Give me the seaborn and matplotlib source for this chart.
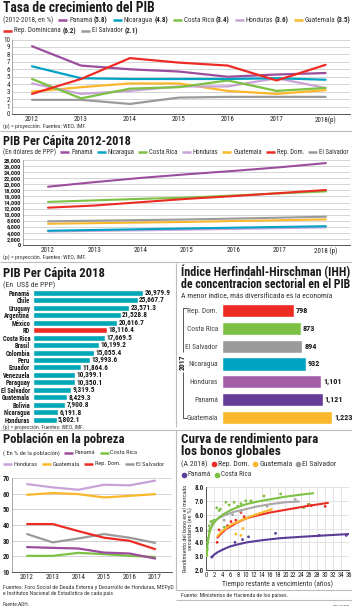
import numpy as np
import pandas as pd
import matplotlib
matplotlib.use("Agg")
import matplotlib.pyplot as plt
import seaborn as sns
from matplotlib import font_manager
from matplotlib.lines import Line2D

# ---------------- data ----------------
years = ["2012", "2013", "2014", "2015", "2016", "2017", "2018(p)"]
years2 = ["2012", "2013", "2014", "2015", "2016", "2017", "2018 (p)"]

growth_panama = [9.1, 6.5, 6.0, 5.7, 5.0, 5.3, 5.5]
growth_nicaragua = [6.4, 4.8, 4.7, 4.7, 4.7, 4.8, 4.6]
growth_costarica = [4.7, 2.1, 3.4, 3.6, 4.5, 3.1, 3.5]
growth_honduras = [4.1, 2.7, 3.1, 3.7, 3.7, 4.8, 3.5]
growth_guatemala = [3.0, 3.6, 4.1, 4.1, 3.1, 2.7, 3.2]
growth_repdom = [2.7, 4.7, 7.5, 6.9, 6.5, 4.5, 6.6]
growth_elsalvador = [1.9, 1.9, 1.35, 2.2, 2.3, 2.3, 2.3]
growth_legend = ["5.8", "4.8", "3.4", "3.6", "3.5", "6.2", "2.1"]

pc_panama = [19200, 20700, 22100, 23300, 24400, 25600, 26980]
pc_nicaragua = [4700, 4950, 5200, 5450, 5700, 5950, 6190]
pc_costarica = [14200, 14700, 15200, 15600, 16300, 17000, 17670]
pc_honduras = [4450, 4650, 4850, 5050, 5300, 5550, 5800]
pc_guatemala = [7000, 7200, 7400, 7600, 7900, 8150, 8430]
pc_repdom = [12300, 13000, 14100, 15200, 16100, 17100, 18120]
pc_elsalvador = [7800, 8000, 8200, 8400, 8700, 9000, 9320]

latam_countries = ["Panamá", "Chile", "Uruguay", "Argentina", "México", "RD", "Costa Rica",
                   "Brasil", "Colombia", "Peru", "Ecuador", "Venezuela", "Paraguay",
                   "El Salvador", "Guatemala", "Bolivia", "Nicaragua", "Honduras"]
latam_pc2018 = [26979.9, 25667.7, 23571.3, 21528.8, 20616.7, 18116.4, 17669.5,
                16199.2, 15055.4, 13993.6, 11864.6, 10399.1, 10350.1,
                9319.5, 8429.3, 7900.8, 6191.8, 5802.1]

ihh_countries = ["Rep. Dom.", "Costa Rica", "El Salvador", "Nicaragua", "Honduras", "Panamá", "Guatemala"]
ihh_values = [798, 873, 894, 932, 1101, 1121, 1223]

pov_years = ["2012", "2013", "2014", "2015", "2016", "2017"]
pov_panama = [25.9, 25.4, 25.0, 22.4, 21.8, 18.6]
pov_costarica = [20.3, 20.3, 22.2, 21.4, 20.3, 19.6]
pov_honduras = [66.1, 64.0, 62.5, 65.7, 65.3, 68.3]
pov_guatemala = [59.3, 60.4, 59.7, 57.6, 58.6, 59.7]
pov_repdom = [40.6, 40.6, 36.1, 31.9, 29.9, 24.6]
pov_elsalvador = [34.2, 28.9, 31.4, 34.2, 31.9, 28.6]

# yield curve: fitted curves
cr_curve_x = [0.15, 0.4, 0.8, 1.2, 1.8, 2.5, 3.5, 4.5, 6, 8, 10, 13, 16, 20, 24, 27]
cr_curve_y = [3.0, 3.9, 4.6, 5.0, 5.3, 5.6, 5.85, 6.05, 6.3, 6.55, 6.75, 6.95, 7.1, 7.3, 7.45, 7.55]
es_curve_x = [1.5, 2.5, 3.5, 5, 7, 10, 13, 16, 20, 23.4]
es_curve_y = [5.3, 5.6, 5.8, 6.0, 6.2, 6.4, 6.6, 6.75, 6.9, 6.95]
gu_curve_x = [2.9, 4, 5, 6.5, 8.6, 11, 13.5, 16.6]
gu_curve_y = [4.45, 4.8, 5.0, 5.3, 5.55, 5.85, 6.1, 6.4]
rd_curve_x = [2.9, 4, 5, 6.5, 8, 10.3, 13, 16, 19, 22, 26, 30.7]
rd_curve_y = [4.35, 4.7, 4.95, 5.2, 5.45, 5.75, 5.95, 6.15, 6.3, 6.45, 6.65, 6.85]
pa_curve_x = [1.4, 2, 3, 4.4, 6, 8, 10.3, 14, 18.7, 24, 30, 36]
pa_curve_y = [2.9, 3.1, 3.3, 3.5, 3.7, 3.85, 4.0, 4.15, 4.3, 4.4, 4.5, 4.6]

cr_pts_x = [0.2, 0.3, 0.4, 0.5, 0.7, 0.8, 1.0, 1.2, 1.5, 2.0, 2.7, 3.3, 3.6, 4.6, 5.0, 5.8, 7.1, 8.0, 8.8, 10.0, 11.3, 14.6, 18.8, 24.6, 26.0]
cr_pts_y = [3.1, 3.5, 4.0, 4.3, 4.8, 5.2, 5.0, 5.5, 5.5, 5.6, 6.5, 6.3, 6.4, 5.1, 6.9, 6.7, 6.9, 6.6, 6.8, 7.0, 7.0, 7.35, 7.5, 6.5, 6.75]
es_pts_x = [1.5, 4.6, 6.7, 8.8, 15.4, 22.5]
es_pts_y = [5.3, 5.6, 6.0, 6.25, 6.6, 7.1]
rd_pts_x = [2.8, 3.3, 5.4, 6.3, 7.5, 8.8, 9.6, 25.8, 26.5, 30.0]
rd_pts_y = [4.0, 4.9, 5.2, 5.5, 5.6, 6.15, 5.85, 6.75, 6.65, 6.6]
gu_pts_x = [4.4, 7.5, 8.8, 9.3]
gu_pts_y = [4.8, 4.6, 4.5, 5.0]
pa_pts_x = [1.5, 7.3, 9.2, 10.7, 17.5, 28.5, 35.3]
pa_pts_y = [2.95, 4.0, 4.2, 4.4, 4.65, 4.5, 4.5]

# ---------------- style / font ----------------
sns.set_theme(style="white")
ttf = font_manager.fontManager.ttflist
names = {f.name for f in ttf}
FONT, STRETCH = None, "normal"
for c in ["Liberation Sans Narrow", "Roboto Condensed", "Open Sans Condensed", "DejaVu Sans Condensed"]:
    if c in names:
        FONT = c
        break
if FONT is None:
    for c in ["Noto Sans", "Open Sans", "Roboto", "DejaVu Sans"]:
        if any(f.name == c and "cond" in str(f.stretch) for f in ttf):
            FONT, STRETCH = c, "condensed"
            break
if FONT is None:
    FONT = "Roboto" if "Roboto" in names else "DejaVu Sans"
plt.rcParams['font.family'] = [FONT, 'DejaVu Sans']
plt.rcParams['font.stretch'] = STRETCH

PAN = "#9b4d9e"; NIC = "#00a3c4"; CR = "#7cc143"; HON = "#c9a2d8"
GUA = "#fbb72b"; RDC = "#ec2b25"; ES = "#9a9a9a"; TEAL = "#00a7b6"
PAN_D = "#673c97"; HON_I = "#a45ea8"; PAN_Y = "#5a3b97"
TXT = "#333333"; GRID = "#cfcfcf"; SEP = "#bdbdbd"

W, H = 352, 609
fig = plt.figure(figsize=(W / 100, H / 100), dpi=100)
fig.patch.set_facecolor("white")
R = fig.canvas.get_renderer()

TFS = 10.5
SFS = 5.6
TKS = 5.0
NFS = 4.8


def px_ax(l, t, r, b):
    return fig.add_axes([l / W, 1 - b / H, (r - l) / W, (b - t) / H])


def ftext(x, y, s, **kw):
    kw.setdefault("va", "center")
    kw.setdefault("color", TXT)
    return fig.text(x / W, 1 - y / H, s, **kw)


def tw(t):
    return t.get_window_extent(renderer=R).width


def fit(t, target, cap=1.2):
    w = tw(t)
    if w > 0:
        t.set_fontsize(t.get_fontsize() * min(cap, target / w))
    return t


def fline(xs, ys, color, lw):
    fig.add_artist(Line2D([x / W for x in xs], [1 - y / H for y in ys], color=color, lw=lw,
                          transform=fig.transFigure, solid_capstyle="butt"))


def legend_row(y, x0, end, items, prefix=None, marker=False, fs=SFS, gap=5.0, cap=1.2):
    p = ftext(x0, y, prefix, fontsize=fs) if prefix else None
    made = []
    for col, nm, bd in items:
        t = ftext(0, y, nm, fontsize=fs)
        b = ftext(0, y, bd, fontsize=fs, fontweight="bold", color="#222222") if bd else None
        made.append((col, t, b))
    sym = 6.0 if marker else 11.0
    fixed = (gap if p else 0) + len(items) * sym + (len(items) - 1) * gap
    txt = (tw(p) if p else 0) + sum(tw(t) + ((1.5 + tw(b)) if b else 0) for _, t, b in made)
    f = min(cap, (end - x0 - fixed) / txt)
    if p:
        p.set_fontsize(fs * f)
    for _, t, b in made:
        t.set_fontsize(fs * f)
        if b:
            b.set_fontsize(fs * f)
    x = x0
    if p:
        x += tw(p) + gap
    for col, t, b in made:
        if marker:
            fig.add_artist(Line2D([(x + 2) / W], [1 - y / H], marker="o", ms=3, color=col, lw=0,
                                  transform=fig.transFigure))
        else:
            fline([x, x + 9], [y, y], col, 1.8)
        x += sym
        t.set_x(x / W)
        x += tw(t)
        if b:
            x += 1.5
            b.set_x(x / W)
            x += tw(b)
        x += gap
    return fs * f


def title(x, y, s, end, fs=TFS):
    t = ftext(x, y, s, fontsize=fs, fontweight="bold", color="#1a1a1a")
    fit(t, end - x, cap=1.1)


def note(x, y, s, end, fs=NFS, **kw):
    t = ftext(x, y, s, fontsize=fs, **kw)
    fit(t, end - x, cap=1.15)
    return t


def style_line_axes(ax):
    sns.despine(ax=ax, top=True, right=True)
    ax.spines["left"].set_color("#9a9a9a")
    ax.spines["left"].set_linewidth(0.6)
    ax.spines["bottom"].set_color("#555555")
    ax.spines["bottom"].set_linewidth(0.7)
    ax.grid(axis="y", color=GRID, lw=0.6)
    ax.set_axisbelow(True)
    ax.tick_params(axis="both", which="major", length=0, labelsize=TKS, labelcolor="#222222", pad=1.5)
    ax.tick_params(axis="x", which="minor", length=3, color="#555555", width=0.6, direction="out")
    ax.set_xlabel("")
    ax.set_ylabel("")


# ---------------- Panel 1: growth ----------------
title(3, 8.5, "Tasa de crecimiento del PIB", 155)
f1 = legend_row(20, 3, 350, [(PAN, "Panamá", "(" + growth_legend[0] + ")"),
                             (NIC, "Nicaragua", "(" + growth_legend[1] + ")"),
                             (CR, "Costa Rica", "(" + growth_legend[2] + ")"),
                             (HON, "Honduras", "(" + growth_legend[3] + ")"),
                             (GUA, "Guatemala", "(" + growth_legend[4] + ")")],
                prefix="(2012-2018, en %)")
legend_row(31, 3, 138, [(RDC, "Rep. Dominicana", "(" + growth_legend[5] + ")"),
                        (ES, "El Salvador", "(" + growth_legend[6] + ")")], fs=f1, cap=1.0)

ax1 = px_ax(12, 39.5, 350, 114)
xp = np.arange(len(years))
for vals, col in [(growth_elsalvador, ES), (growth_guatemala, GUA), (growth_honduras, HON),
                  (growth_costarica, CR), (growth_nicaragua, NIC), (growth_panama, PAN),
                  (growth_repdom, RDC)]:
    sns.lineplot(x=xp, y=vals, color=col, lw=1.6, ax=ax1)
ax1.set_ylim(0, 10)
ax1.set_yticks(range(0, 11))
ax1.set_xlim(-0.41, 6.5)
ax1.set_xticks(xp)
ax1.set_xticklabels(years)
ax1.set_xticks(np.arange(0.5, 6.6, 1), minor=True)
style_line_axes(ax1)
note(3, 126, "(p) = proyección. Fuentes: WEO, IMF.", 85)
fline([0, 352], [130.5, 130.5], SEP, 0.8)

# ---------------- Panel 2: GDP per capita 2012-2018 ----------------
title(3, 141, "PIB Per Cápita 2012-2018", 131)
legend_row(152, 3, 350, [(PAN, "Panamá", None), (NIC, "Nicaragua", None), (CR, "Costa Rica", None),
                         (HON, "Honduras", None), (GUA, "Guatemala", None), (RDC, "Rep. Dom.", None),
                         (ES, "El Salvador", None)], prefix="(En dólares de PPP)", gap=4.0)

ax2 = px_ax(23, 160, 350, 245)
for vals, col in [(pc_honduras, HON), (pc_nicaragua, NIC), (pc_guatemala, GUA), (pc_elsalvador, ES),
                  (pc_costarica, CR), (pc_repdom, RDC), (pc_panama, PAN)]:
    sns.lineplot(x=xp, y=vals, color=col, lw=1.5, ax=ax2)
ax2.set_ylim(0, 28000)
ax2.set_yticks(range(0, 28001, 2000))
ax2.set_yticklabels([f"{v:,}" for v in range(0, 28001, 2000)])
ax2.set_xlim(-0.54, 6.52)
ax2.set_xticks(xp)
ax2.set_xticklabels(years2)
ax2.set_xticks(np.arange(0.5, 6.6, 1), minor=True)
style_line_axes(ax2)
for lab in ax2.get_yticklabels():
    lab.set_fontsize(TKS - 0.4)
    lab.set_fontweight("bold")
note(3, 257, "(p) = proyección. Fuentes: WEO, IMF.", 85)
fline([0, 352], [261.5, 261.5], SEP, 0.8)
fline([176, 176], [263, 427], SEP, 0.8)

# ---------------- Panel 3L: per capita 2018 bars ----------------
title(3, 273, "PIB Per Cápita 2018", 105)
note(3, 285, "(En  US$ de PPP)", 55, fs=SFS)
ax3 = px_ax(33, 289, 175, 423.5)
bar_cols = [RDC if c == "RD" else TEAL for c in latam_countries]
df3 = pd.DataFrame({"country": latam_countries, "value": latam_pc2018})
sns.barplot(data=df3, x="value", y="country", hue="country", palette=bar_cols, legend=False,
            orient="h", width=0.8, saturation=1, ax=ax3)
ax3.set_xlim(0, 26979.9 * 142 / 110)
ax3.set_ylim(len(latam_countries) - 0.5, -0.5)
for s in ax3.spines.values():
    s.set_visible(False)
ax3.set_xticks([])
ax3.set_xlabel(""); ax3.set_ylabel("")
ax3.tick_params(axis="y", length=0, pad=2, labelsize=TKS - 0.3, labelcolor="#1a1a1a")
for lab in ax3.get_yticklabels():
    lab.set_fontweight("bold")
for i, v in enumerate(latam_pc2018):
    ax3.text(v + 350, i, f"{v:,.1f}", va="center", ha="left", fontsize=TKS + 0.2,
             fontweight="bold", color="#1a1a1a")
note(3, 427.5, "(p) = proyección. Fuentes: WEO, IMF.", 85, fs=4.5)

# ---------------- Panel 3R: IHH ----------------
title(181, 271.5, "Índice Herfindahl-Hirschman (IHH)", 350)
title(181, 284.5, "de concentracion sectorial en el PIB", 352)
note(181, 295.5, "A menor índice, más diversificada es la economía", 332, fs=SFS)
ax4 = px_ax(222, 302, 352, 426)
df4 = pd.DataFrame({"country": ihh_countries, "value": ihh_values})
sns.barplot(data=df4, x="value", y="country", hue="country",
            palette=[RDC, CR, ES, NIC, HON_I, PAN_D, GUA], legend=False,
            orient="h", width=0.74, saturation=1, ax=ax4)
ax4.set_xlim(0, 1223 * 130 / 110)
ax4.set_ylim(len(ihh_countries) - 0.5, -0.5)
for s in ax4.spines.values():
    s.set_visible(False)
ax4.set_xticks([])
ax4.set_xlabel(""); ax4.set_ylabel("")
ax4.tick_params(axis="y", length=0, pad=3, labelsize=TKS + 0.3, labelcolor="#444444")
for i, v in enumerate(ihh_values):
    ax4.text(v + 22, i, f"{v:,}", va="center", ha="left", fontsize=TKS + 0.9,
             fontweight="bold", color="#1a1a1a")
fline([186.5, 183, 183], [308, 308, 352], "#555555", 0.7)
fline([183, 183, 187], [372, 418, 418], "#555555", 0.7)
ftext(183, 362, "2017", fontsize=TKS + 0.4, fontweight="bold", rotation=90, ha="center", color="#1a1a1a")

fline([0, 352], [430, 430], SEP, 0.8)
fline([176, 176], [430, 590], SEP, 0.8)

# ---------------- Panel 4L: poverty ----------------
title(3, 440, "Población en la pobreza", 125)
f4 = legend_row(464, 3, 165, [(HON, "Honduras", None), (GUA, "Guatemala", None),
                              (RDC, "Rep. Dom.", None), (ES, "El Salvador", None)], gap=4.0)
legend_row(453, 3, 148, [(PAN, "Panamá", None), (CR, "Costa Rica", None)],
           prefix="( En % de la población)", gap=4.0, fs=f4, cap=1.0)

ax5 = px_ax(12, 478, 172, 572)
xp6 = np.arange(len(pov_years))
for vals, col in [(pov_costarica, CR), (pov_panama, PAN), (pov_elsalvador, ES), (pov_repdom, RDC),
                  (pov_guatemala, GUA), (pov_honduras, HON)]:
    sns.lineplot(x=xp6, y=vals, color=col, lw=1.6, ax=ax5)
ax5.set_ylim(10, 70)
ax5.set_yticks(range(10, 71, 10))
ax5.set_xlim(-0.59, 5.66)
ax5.set_xticks(xp6)
ax5.set_xticklabels(pov_years)
ax5.set_xticks(np.arange(0.5, 5.6, 1), minor=True)
style_line_axes(ax5)
for lab in ax5.get_yticklabels():
    lab.set_fontweight("bold")
note(3, 587.5, "Fuentes: Foro Social de Deuda Externa y Desarrollo de Honduras, MEPyD", 170)
note(3, 593.5, "e Institutos Nacional de Estadística de cada país", 112)
note(3, 604.5, "Fuente:ADH.", 30)

# ---------------- Panel 4R: yield curve ----------------
title(181, 439, "Curva de rendimiento para", 319)
title(181, 451, "los bonos globales", 281)
f6 = legend_row(464, 181, 336, [(RDC, "Rep. Dom.", None), (GUA, "Guatemala", None), (ES, "El Salvador", None)],
                prefix="(A 2018)", marker=True, gap=4.0)
legend_row(474.5, 182, 251, [(PAN_Y, "Panamá", None), (CR, "Costa Rica", None)], marker=True, gap=4.0,
           fs=f6, cap=1.0)

ax6 = px_ax(206, 487, 349, 570)
for cx, cy, px_, py_, col in [(pa_curve_x, pa_curve_y, pa_pts_x, pa_pts_y, PAN_Y),
                              (rd_curve_x, rd_curve_y, rd_pts_x, rd_pts_y, RDC),
                              (gu_curve_x, gu_curve_y, gu_pts_x, gu_pts_y, GUA),
                              (es_curve_x, es_curve_y, es_pts_x, es_pts_y, "#a8a8a8"),
                              (cr_curve_x, cr_curve_y, cr_pts_x, cr_pts_y, CR)]:
    sns.scatterplot(x=px_, y=py_, color=col, s=4, edgecolor="none", ax=ax6, zorder=3)
    sns.lineplot(x=cx, y=cy, color=col, lw=1.5, sort=False, estimator=None, ax=ax6, zorder=4)
ax6.set_xlim(0, 36)
ax6.set_ylim(2, 8)
ax6.set_xticks(range(0, 37, 2))
ax6.set_yticks(range(2, 9))
ax6.set_yticklabels([f"{v:.1f}" for v in range(2, 9)])
ax6.grid(True, color="#d9d9d9", lw=0.5)
ax6.set_axisbelow(True)
sns.despine(ax=ax6)
ax6.spines["left"].set_color("#555555"); ax6.spines["left"].set_linewidth(0.7)
ax6.spines["bottom"].set_color("#555555"); ax6.spines["bottom"].set_linewidth(0.7)
ax6.tick_params(axis="both", length=0, labelsize=TKS - 0.3, labelcolor="#222222", pad=1.5)
ax6.set_xlabel("Tiempo restante a vencimiento (años)", fontsize=SFS - 0.3, color=TXT, labelpad=1)
ax6.set_ylabel("Rendimiento del bono en el mercado\nsecundario (en %)", fontsize=NFS - 0.4,
               color=TXT, labelpad=1, linespacing=0.9)
for lab in ax6.get_yticklabels():
    lab.set_fontweight("bold")
    lab.set_fontsize(TKS)
fline([176, 352], [589.5, 589.5], SEP, 0.8)
note(181, 595, "Fuente: Ministerios de Hacienda de los países.", 287)
fline([176, 352], [599.5, 599.5], SEP, 0.8)
note(349, 605, "Infografía: José M. Medrano", 276 + 73, ha="right")

fig.savefig("out.png", dpi=100, facecolor="white")
